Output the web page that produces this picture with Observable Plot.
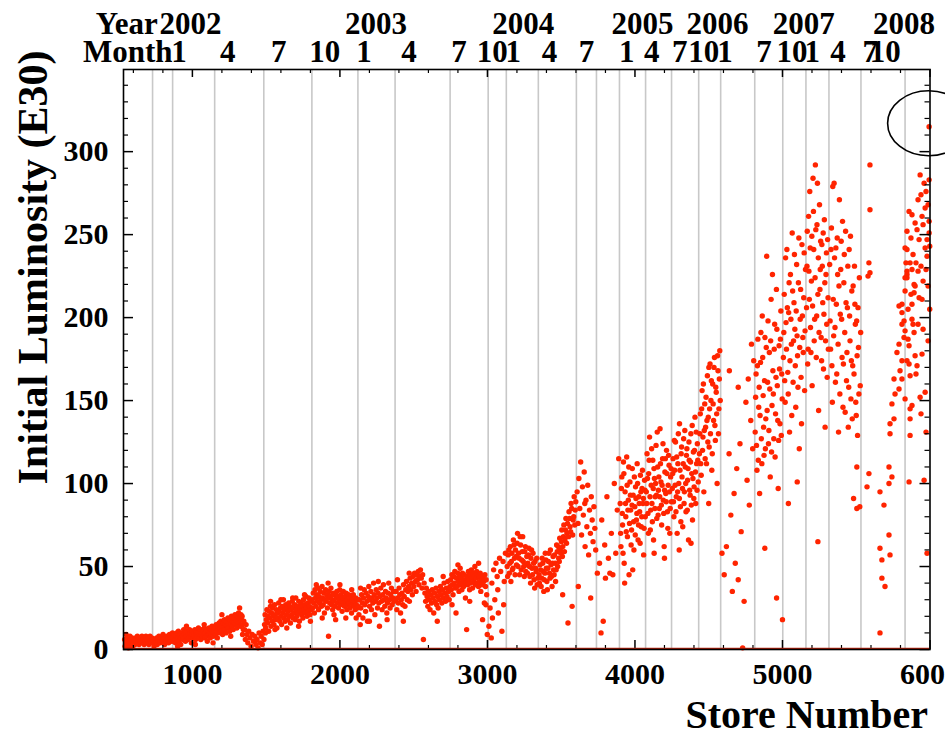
<!DOCTYPE html>
<html>
<head>
<meta charset="utf-8">
<script src="https://cdn.jsdelivr.net/npm/d3@7"></script>
<script src="https://cdn.jsdelivr.net/npm/@observablehq/plot@0.6"></script>
<style>
  html, body { margin: 0; padding: 0; background: #fff; }
</style>
</head>
<body>
<div id="chart"></div>
<script>
// ---------- DATA (store number, initial luminosity E30) ----------
const seg2001 = [[541,6],[544,2],[548,4],[551,9],[555,5],[559,3],[562,7],[566,1],[569,5],[573,4],[577,8],[581,6],[584,3],[588,5],[592,7],[596,2],[600,4],[604,6],[607,5],[611,3],[615,7],[619,6],[623,4],[627,8],[631,5],[634,6],[638,3],[642,7],[646,5],[650,6],[654,4],[658,8],[662,6],[665,5],[669,7],[673,3],[677,6],[681,5],[685,8],[689,4],[693,6],[697,7],[701,5],[705,3],[709,6],[713,8],[717,5],[721,4],[725,7],[729,6],[735,5],[740,2],[746,6],[751,4],[757,7],[762,3],[768,5],[773,8],[779,6],[784,4],[790,7],[795,5],[801,9],[806,6],[812,3],[817,7],[823,5],[828,8],[834,6],[839,4],[845,9],[850,6],[856,7],[861,5],[865,10]];
const seg2002a = [[869,7],[873,5],[877,9],[881,6],[885,4],[889,8],[893,10],[897,6],[900,2],[901,7],[905,11],[909,5],[913,8],[917,9],[921,3],[925,7],[929,10],[933,8],[937,6],[941,12],[945,9],[949,7],[953,5],[957,10],[960,14],[961,8],[965,11],[969,6],[973,9],[977,7],[981,12],[985,10],[989,8],[993,4],[997,9],[1001,11],[1005,7],[1009,10],[1013,8],[1017,12],[1020,3],[1021,6],[1025,9],[1029,11],[1033,8],[1037,10],[1041,13],[1045,7],[1049,9],[1053,11],[1057,6],[1061,10],[1065,12],[1069,8],[1073,11],[1077,9],[1080,15],[1081,13],[1085,7],[1089,10],[1093,12],[1097,8],[1101,5],[1105,11],[1109,9],[1113,13],[1117,10],[1121,7],[1125,12],[1129,9],[1133,14],[1137,11],[1140,4],[1141,8],[1145,12],[1149,10],
  [1153,13],[1157,9],[1161,15],[1165,11],[1169,7],[1173,14],[1177,12],[1181,16],[1185,10],[1189,13],[1193,17],[1197,11],[1200,21],[1201,14],[1205,9],[1209,16],[1213,13],[1217,18],[1221,12],[1225,15],[1229,10],[1233,17],[1237,14],[1241,19],[1245,13],[1249,16],[1253,11],[1257,18],[1260,8],[1261,15],[1265,20],[1269,14],[1273,17],[1277,12],[1281,19],[1285,16],[1289,21],[1293,15],[1297,18],[1301,13],[1305,20],[1309,17],[1313,22],[1317,16],[1320,25],[1321,19],[1325,14],[1329,21],[1333,18],[1337,20],[1340,9],[1341,15],[1345,12],[1349,17],
  [1354,12],[1359,6],[1364,15],[1370,9],[1376,4],[1382,11],[1390,7],[1398,2],[1405,9],[1414,5],[1423,8],[1431,3],[1438,6],[1445,1],[1452,10],[1459,4],[1466,8],[1473,3],[1479,11],[1485,6]];
const seg2002b = [[1489,15],[1493,21],[1495,10],[1497,13],[1501,18],[1505,24],[1509,16],[1513,20],[1517,11],[1521,23],[1525,19],[1529,26],[1530,29],[1533,14],[1537,22],[1541,17],[1545,25],[1549,20],[1553,15],[1557,27],[1560,12],[1561,21],[1565,18],[1569,24],[1573,13],[1577,22],[1581,19],[1585,28],[1589,23],[1593,17],[1597,25],[1600,30],[1601,20],[1605,15],[1609,26],[1613,22],[1617,30],[1621,19],[1625,24],[1629,17],[1633,27],[1637,21],[1640,13],[1641,25],[1645,18],[1649,23],[1653,28],[1657,20],[1661,26],[1665,16],[1669,24],[1673,21],[1677,29],[1680,31],[1681,19],[1685,25],[1689,22],[1693,27],[1697,18],[1701,31],[1705,24],[1709,20],[1713,26],[1717,22],[1720,14],[1721,29],[1725,17],[1729,25],[1733,23],[1737,28],[1741,21],[1745,26],[1749,19],[1753,30],[1757,24],[1760,33],[1761,27],[1765,22],[1769,32],[1773,25],[1777,20],[1781,28],[1785,23],[1789,31],[1793,26],[1797,21],[1800,17],[1801,29],[1805,24],
  [1811,30],[1815,25],[1819,34],[1823,28],[1827,22],[1831,36],[1835,31],[1839,26],[1840,39],[1843,33],[1847,29],[1851,37],[1855,24],[1859,32],[1863,28],[1867,35],[1871,30],[1875,26],[1879,38],[1880,19],[1883,31],[1887,27],[1891,34],[1895,22],[1899,30],[1903,36],[1907,29],[1911,33],[1915,25],[1919,31],[1920,40],[1923,8],[1927,35],[1931,28],[1935,32],[1939,37],[1943,27],[1947,30],[1951,24],[1955,34],[1959,29],[1960,21],[1963,33],[1967,26],[1971,18],[1975,31],[1979,35],[1983,28],[1987,32],[1991,25],[1995,30],[1999,36],[2000,39],[2003,27],[2007,33],[2011,29],[2015,23],[2019,31],[2023,35],[2027,28],[2031,26],[2035,32],[2039,29],[2040,19],[2043,34],[2047,24],[2051,30],[2055,27],[2059,33],[2063,28],[2067,25],[2071,31],[2075,29],[2079,22],[2080,36],[2083,30],[2087,27],[2091,33],[2095,26],[2099,29],[2103,24],[2107,31],[2110,19],[2111,27],[2115,25],[2119,30]];
const seg2003 = [[2124,26],[2129,21],[2133,30],[2138,15],[2140,37],[2142,25],[2147,33],[2151,28],[2156,19],[2160,31],[2165,36],[2169,27],[2174,23],[2178,34],[2183,29],[2187,17],[2192,32],[2196,38],[2200,17],[2201,26],[2205,30],[2210,35],[2214,24],[2219,31],[2223,28],[2228,40],[2232,33],[2237,21],[2241,29],[2246,36],[2250,31],[2255,25],[2259,34],[2260,41],[2264,28],[2268,14],[2273,32],[2277,37],[2282,29],[2286,24],[2291,33],[2295,39],[2300,30],[2304,26],[2309,35],[2313,31],[2318,22],[2320,18],[2322,28],[2327,34],[2331,40],[2336,30],[2340,25],[2345,33],[2349,37],[2354,27],[2358,31],[2363,35],[2367,29],
  [2376,30],[2381,35],[2386,24],[2390,42],[2391,31],[2396,28],[2401,37],[2406,33],[2411,22],[2416,30],[2421,34],[2426,27],[2430,17],[2431,39],[2436,32],[2441,26],[2446,36],[2451,41],[2456,30],[2461,35],[2466,38],[2470,46],[2471,29],[2476,43],[2481,36],[2486,40],[2491,33],[2496,44],[2501,38],[2506,46],[2511,41],[2516,35],[2521,45],[2526,42],[2531,47],[2536,39],[2541,44],[2546,48],[2551,43],[2556,37],[2561,45],[2566,6],[2571,40],[2576,34],[2581,29],[2586,37],[2591,32],[2596,26],[2601,35],[2606,30],[2611,24],[2616,33],[2620,42],[2621,28],[2626,36],[2631,31],[2636,22],[2641,34],[2646,29],[2651,37],[2656,27],[2660,17],[2661,32],[2666,25],[2671,35],[2676,30],[2681,38],[2686,33],[2691,28],[2696,36],[2700,44],[2701,31],[2706,40],[2711,34],[2716,29],[2721,37],[2726,32],[2731,41],[2736,35],[2741,30],[2746,38],
  [2751,42],[2755,36],[2759,45],[2760,27],[2763,39],[2767,33],[2771,44],[2775,40],[2779,47],[2783,37],[2787,22],[2791,43],[2795,38],[2799,46],[2800,51],[2803,41],[2807,35],[2811,44],[2815,49],[2819,39],[2823,43],[2827,36],[2831,46],[2835,41],[2839,38],[2843,45],[2847,42],[2851,31],[2855,40],[2859,12],[2863,44],[2867,39],[2871,47],[2875,42],[2879,36],[2880,29],[2883,45],[2887,40],[2891,48],[2895,43],[2899,37],[2903,46],[2907,41],[2911,44],[2915,50],[2919,39],[2923,43],[2927,47],[2931,40],[2935,45],[2939,38],[2940,52],[2943,44],[2947,41],[2951,46],[2955,35],[2959,42],[2963,39],[2967,18],[2971,44],[2975,41],[2979,28],[2983,45],[2987,38],[2990,27],[2991,42],[2995,33],[2999,9]];
const seg2004 = [[3010,14],[3018,25],[3026,7],[3030,40],[3034,19],[3042,48],[3050,30],[3058,52],[3066,44],[3070,36],[3074,22],[3082,55],[3090,47],[3098,11],[3106,53],[3110,27],[3114,41],[3122,58],
  [3134,50],[3137,44],[3141,57],[3145,60],[3148,46],[3152,52],[3155,62],[3159,41],[3162,53],[3166,58],[3169,48],[3173,49],[3176,66],[3180,63],[3183,55],[3187,45],[3190,60],[3194,56],[3197,51],[3201,64],[3204,70],[3208,50],[3211,58],[3215,55],[3218,45],[3222,68],[3225,63],[3229,48],[3232,54],[3236,59],[3239,68],[3243,53],[3246,50],[3250,44],[3253,59],[3257,62],[3260,47],[3264,51],[3267,56],[3271,46],[3274,52],[3278,57],[3281,61],[3285,50],[3288,44],[3292,40],[3295,55],[3299,60],[3302,49],[3306,45],[3309,58],[3313,52],[3316,42],[3320,37],[3323,53],[3327,49],[3330,47],[3334,55],[3337,39],[3341,43],
  [3350,45],[3353,40],[3357,51],[3361,48],[3364,38],[3368,43],[3371,55],[3375,52],[3378,47],[3382,35],[3385,42],[3389,46],[3392,58],[3396,54],[3399,49],[3403,41],[3406,36],[3410,49],[3413,53],[3417,58],[3420,46],[3424,43],[3427,60],[3431,51],[3434,44],[3438,38],[3441,52],[3445,56],[3448,48],[3452,45],[3455,57],[3459,52],[3462,41],[3466,48],[3469,63],[3473,59],[3476,50],[3480,62],[3483,55],[3487,53],[3490,67],[3494,60],[3497,58],[3501,65],[3504,72],[3508,56],[3510,33],[3511,62],[3515,68],[3518,75],[3522,59],[3525,66],[3529,72],[3532,79],[3536,64],[3539,70],[3543,76],[3546,16],[3550,68],[3553,83],[3557,79],[3560,74],[3564,71],[3567,88],[3571,85],[3574,26],[3578,69],[3581,78],[3585,80],[3588,92],[3592,75],[3595,84],[3599,89],
  [3608,95],[3614,76],[3616,38],[3620,103],[3626,85],[3632,113],[3638,69],[3644,98],[3650,81],[3656,107],[3660,88],[3662,62],[3668,90],[3674,74],[3680,99],[3686,57],[3692,84],[3698,70],[3700,31],[3704,92],[3710,78],[3716,65],[3722,86],[3728,73],[3734,60],
  [3745,46],[3760,52],[3770,10],[3775,78],[3785,17],[3795,63],[3800,43],[3810,92],[3820,55],[3830,46],[3840,70],[3850,45],[3860,100],[3870,58],[3880,84],[3890,115]];
const seg2005 = [[3900,88],[3903,70],[3905,62],[3908,97],[3911,104],[3914,82],[3916,75],[3919,58],[3922,113],[3925,106],[3927,52],[3930,40],[3933,95],[3936,88],[3938,80],[3941,71],[3944,116],[3947,99],[3949,68],[3952,84],[3955,90],[3958,110],[3960,45],[3963,76],[3966,101],[3969,93],[3971,84],[3974,63],[3977,72],[3980,87],[3982,109],[3985,48],[3988,93],[3991,77],[3993,60],[3996,104],[3999,86],[4002,69],[4004,98],[4007,91],[4010,78],[4013,82],[4015,112],[4018,100],[4021,66],[4024,75],[4026,92],[4029,88],[4032,83],[4035,64],[4037,105],[4040,95],[4043,74],[4046,80],[4048,97],[4051,108],[4054,88],[4057,91],[4059,57],[4062,73],[4065,102],[4068,96],[4070,80],
  [4077,95],[4080,88],[4082,118],[4085,103],[4088,82],[4091,70],[4093,106],[4096,114],[4099,128],[4102,92],[4104,72],[4107,84],[4110,99],[4113,121],[4115,88],[4118,77],[4121,114],[4124,97],[4126,66],[4129,109],[4130,58],[4132,103],[4135,85],[4137,92],[4140,100],[4143,123],[4146,93],[4148,79],[4151,131],[4154,110],[4157,81],[4159,96],[4162,104],[4165,85],[4168,92],[4170,133],[4173,112],[4176,101],[4179,87],[4181,75],[4184,99],[4187,115],[4190,124],[4192,90],[4195,82],[4198,62],[4200,55],[4201,96],[4203,107],[4206,115],[4209,94],[4212,89],[4214,120],[4217,106],[4220,83],[4223,73],[4225,99],[4228,117],[4231,111],[4234,95],[4236,70],[4239,85],[4242,104],[4245,109],[4247,89],
  [4253,97],[4256,106],[4258,115],[4261,89],[4264,80],[4267,126],[4269,108],[4272,99],[4275,125],[4278,83],[4280,92],[4283,116],[4286,70],[4289,95],[4291,112],[4294,130],[4297,100],[4300,60],[4301,91],[4302,136],[4305,108],[4308,86],[4311,77],[4313,118],[4316,122],[4319,104],[4322,97],[4324,74],[4327,112],[4330,127],[4333,88],[4335,95],[4338,132],[4341,110],[4344,100],[4346,83],[4349,117],[4352,121],[4355,84],[4357,102],[4360,109],[4363,66],[4366,125],[4368,114],[4371,96],[4374,93],[4377,113],[4379,130],[4380,64],[4382,87],[4385,106],[4388,135],[4390,78],[4393,103],[4396,119],[4399,91],[4401,98],[4404,120],[4407,140],[4410,107],[4412,88],[4415,131],[4418,112],[4421,96],[4423,124],[4426,114],[4429,101],
  [4437,118],[4440,130],[4443,142],[4446,112],[4449,105],[4452,145],[4455,156],[4458,120],[4461,128],[4464,160],[4467,95],[4470,132],[4473,148],[4476,115],[4479,134],[4482,152],[4485,112],[4488,138],[4491,165],[4494,125],[4497,140],[4500,88],[4501,170],[4503,122],[4506,145],[4509,172],[4512,130],[4515,150],[4518,162],[4521,108],[4524,118],[4527,160],[4530,148],[4533,138],[4536,170],[4539,176],[4542,135],[4545,126],[4548,158],[4551,155],[4554,142],[4557,100],[4560,177],[4563,168],[4566,130],[4569,145],[4572,163],[4575,180],[4578,150]];
const seg2006 = [[4590,58],[4605,45],[4620,62],[4638,118],[4640,168],[4650,81],[4660,35],[4672,94],[4680,52],[4690,109],[4700,42],[4700,158],[4712,124],[4720,71],[4730,1],[4740,29],[4752,149],[4760,102],[4768,163],[4775,87],[4785,138],[4790,184],[4798,121],[4805,174],
  [4815,131],[4818,152],[4821,166],[4824,123],[4827,108],[4830,171],[4833,187],[4836,114],[4839,146],[4842,158],[4845,94],[4848,141],[4851,173],[4854,191],[4857,127],[4860,112],[4863,201],[4866,176],[4869,153],[4872,134],[4875,117],[4878,162],[4880,61],[4881,188],[4884,121],[4887,139],[4890,182],[4893,237],[4896,144],[4899,161],[4902,198],[4905,124],[4908,132],[4911,179],[4914,157],[4917,104],[4920,186],[4923,211],[4926,119],[4929,147],[4932,226],[4935,168],[4938,154],[4941,127],[4944,181],[4947,196],[4950,116],[4953,142],[4956,164],[4959,217],[4960,31],[4962,193],[4965,159],[4968,138],[4971,97],[4974,126],[4977,183],[4980,169],[4983,136],[4986,187],[4989,204],[4992,129],[4995,166],[4998,151],[5000,18]];
const seg2007 = [[5006,176],[5009,191],[5012,214],[5015,162],[5018,149],[5021,236],[5024,197],[5027,181],[5030,241],[5033,206],[5036,167],[5039,154],[5040,88],[5042,203],[5045,221],[5048,131],[5051,174],[5054,226],[5057,199],[5060,184],[5063,141],[5066,251],[5069,216],[5072,161],[5075,186],[5078,209],[5081,238],[5084,193],[5087,171],[5090,146],[5093,204],[5096,232],[5099,189],[5100,101],[5102,177],[5105,158],[5108,221],[5111,248],[5114,121],[5117,182],[5120,199],[5123,217],[5126,164],[5129,136],[5132,244],[5135,201],[5138,188],[5141,179],[5144,212],[5147,239],[5150,156],[5153,192],[5156,229],
  [5163,206],[5166,231],[5168,252],[5171,172],[5174,181],[5177,261],[5179,228],[5182,211],[5185,276],[5188,242],[5190,194],[5193,179],[5196,222],[5199,249],[5201,159],[5204,207],[5207,284],[5210,264],[5212,241],[5215,186],[5218,199],[5221,224],[5223,292],[5226,253],[5229,176],[5232,201],[5234,256],[5237,281],[5240,214],[5240,65],[5243,236],[5245,144],[5248,191],[5251,268],[5254,217],[5256,229],[5259,246],[5262,188],[5265,174],[5267,244],[5270,231],[5273,209],[5276,251],[5278,169],[5281,202],[5284,259],[5287,221],[5289,134],[5292,186],[5295,226],[5298,239],[5300,196],[5303,164],[5306,247],[5309,212],[5311,181],
  [5320,232],[5323,198],[5326,181],[5329,241],[5332,254],[5335,171],[5338,149],[5341,279],[5344,211],[5347,189],[5350,281],[5353,236],[5356,194],[5359,161],[5362,242],[5365,208],[5368,166],[5371,248],[5374,226],[5377,184],[5380,131],[5383,219],[5386,271],[5389,154],[5392,202],[5395,229],[5398,246],[5401,199],[5404,176],[5407,258],[5410,146],[5413,172],[5416,221],[5419,238],[5422,191],[5425,143],[5428,252],[5431,209],[5434,162],[5437,179],[5440,206],[5443,231],[5446,134],[5449,158],[5452,241],[5455,201],[5458,186],[5461,249],[5464,151],[5467,174],[5470,216],[5473,139],[5476,171],[5479,219],[5482,91],[5485,166],[5488,231],[5491,208],[5494,196],[5497,149],[5500,141],[5503,198],[5504,110],[5504,85],[5506,177],[5509,129],[5512,206],[5515,182],[5518,154],[5521,224],[5524,86],[5527,159],[5530,191],
  [5573,98],[5580,225],[5586,233],[5586,106],[5593,292],[5593,265],[5593,227],[5661,95],[5661,61],[5661,10],[5674,54],[5674,43],[5688,87],[5695,38]];
const seg2008 = [[5722,69],[5729,57],[5722,110],[5742,104],[5722,100],[5729,130],[5729,136],[5756,139],[5742,148],[5763,154],[5756,163],[5776,179],[5790,157],[5790,184],[5790,207],[5797,168],[5810,174],[5810,196],[5810,208],[5810,203],[5810,163],[5824,188],[5824,198],[5831,192],[5831,216],[5831,242],[5831,224],[5831,151],
  [5837,233],[5844,224],[5844,228],[5844,252],[5844,241],[5844,226],[5844,174],[5851,205],[5851,187],[5858,264],[5858,183],[5858,172],[5858,101],[5865,233],[5865,165],[5865,145],[5865,139],[5865,129],[5871,248],[5871,214],[5878,262],[5878,229],[5878,208],[5878,199],[5878,147],[5885,238],[5885,196],[5892,220],[5892,215],[5892,191],[5899,257],[5899,219],[5899,177],[5905,233],[5905,166],[5912,253],[5912,171],[5919,271],[5919,228],[5919,196],[5926,247],[5926,212],[5933,286],[5933,152],[5939,274],[5939,231],[5939,142],[5946,261],[5946,211],[5946,178],[5953,256],[5953,222],[5953,193],[5960,281],[5960,102],[5967,266],[5967,242],[5967,155],[5973,276],[5973,229],[5973,131],[5980,247],[5980,237],[5980,58],[5987,268],[5987,219],[5987,186],[5994,283],[5994,258],[5994,251],[5994,315],[5998,243],[5998,205]];

const circledPoint = [5994, 315];

// month boundary lines (store numbers)
const monthLines = [730, 866, 1151, 1484, 1810, 2122, 2374, 2747, 3005, 3128, 3345, 3603, 3739, 3895, 4072, 4248, 4432, 4581, 4812, 5002, 5159, 5315, 5532, 5831];

// top labels
const yearLabels = ["2002", "2003", "2004", "2005", "2006", "2007", "2008"];
const yearStores = [988, 2245, 3243, 4051, 4560, 5144, 5823];
const monthLabels = ["1","4","7","10","1","4","7","10","1","4","7","1","4","7","10","1","7","10","1","4","7","10"];
const monthStores = [910, 1240, 1586, 1898, 2163, 2469, 2808, 3032, 3175, 3420, 3672, 3944, 4114, 4304, 4467, 4610, 4875, 5065, 5201, 5377, 5595, 5697];
const yearTitle = "Year", yearTitleStore = 765;
const monthTitle = "Month", monthTitleStore = 866;

// axis ticks
const xMajor = [1000, 2000, 3000, 4000, 5000, 6000];
const xMinor = [600, 800, 1200, 1400, 1600, 1800, 2200, 2400, 2600, 2800, 3200, 3400, 3600, 3800, 4200, 4400, 4600, 4800, 5200, 5400, 5600, 5800];
const yMajor = [0, 50, 100, 150, 200, 250, 300];
const yMinor = [10, 20, 30, 40, 60, 70, 80, 90, 110, 120, 130, 140, 160, 170, 180, 190, 210, 220, 230, 240, 260, 270, 280, 290, 310, 320, 330, 340];

const xTitle = "Store Number";
const yTitle = "Initial Luminosity (E30)";

const points = [...seg2001, ...seg2002a, ...seg2002b, ...seg2003, ...seg2004, ...seg2005, ...seg2006, ...seg2007, ...seg2008];

// ---------- CHART ----------
const W = 945, H = 733;
const mL = 123, mR = 15.5, mT = 69, mB = 84;
const fw = W - mL - mR, fh = H - mT - mB;
const serif = "'Liberation Serif', 'Times New Roman', Times, serif";

function ellipseMark(index, scales) {
  const cx = scales.x(circledPoint[0]);
  const cy = scales.y(circledPoint[1]) - 3;
  return d3.create("svg:ellipse")
    .attr("cx", cx).attr("cy", cy)
    .attr("rx", 41).attr("ry", 32.5)
    .attr("fill", "none").attr("stroke", "black").attr("stroke-width", 1.6)
    .node();
}

const topText = { frameAnchor: "top", lineAnchor: "middle", fontSize: 31, fontWeight: "bold" };

const chart = Plot.plot({
  width: W,
  height: H,
  marginLeft: mL,
  marginRight: mR,
  marginTop: mT,
  marginBottom: mB,
  style: { fontFamily: serif, fontWeight: "bold", background: "#fff", color: "#000", overflow: "hidden" },
  x: { domain: [533, 6000] },
  y: { domain: [0, 349.5] },
  marks: [
    Plot.ruleX(monthLines, { stroke: "#c8c8c8", strokeWidth: 1.6 }),
    Plot.dot(points, { x: d => d[0], y: d => d[1], r: 2.7, fill: "#ff2400", stroke: null }),
    // inward ticks
    Plot.ruleX(xMajor, { insetTop: fh - 9, stroke: "#000", strokeWidth: 1.5 }),
    Plot.ruleX(xMinor, { insetTop: fh - 4, stroke: "#000", strokeWidth: 1.2 }),
    Plot.ruleX(xMajor, { insetBottom: fh - 8, stroke: "#000", strokeWidth: 1.5 }),
    Plot.ruleX(xMinor, { insetBottom: fh - 4, stroke: "#000", strokeWidth: 1.2 }),
    Plot.ruleY(yMajor, { insetRight: fw - 10, stroke: "#000", strokeWidth: 1.5 }),
    Plot.ruleY(yMinor, { insetRight: fw - 5, stroke: "#000", strokeWidth: 1.2 }),
    Plot.ruleY(yMajor, { insetLeft: fw - 10, stroke: "#000", strokeWidth: 1.5 }),
    Plot.ruleY(yMinor, { insetLeft: fw - 5, stroke: "#000", strokeWidth: 1.2 }),
    Plot.ruleY([0], { stroke: "#b3200c", strokeWidth: 1.5, dy: -1 }),
    Plot.frame({ stroke: "#000", strokeWidth: 1.6 }),
    // axis labels
    Plot.axisX(xMajor, { tickSize: 0, tickPadding: 13, fontSize: 30, fontWeight: "bold", label: null, tickFormat: d => String(d) }),
    Plot.axisY(yMajor, { tickSize: 0, tickPadding: 15, fontSize: 30, fontWeight: "bold", label: null }),
    // top labels
    Plot.text(yearLabels, { ...topText, x: yearStores, text: yearLabels, dy: -45 }),
    Plot.text(monthLabels, { ...topText, x: monthStores, text: monthLabels, dy: -17 }),
    Plot.text([yearTitle], { ...topText, x: [yearTitleStore], text: d => d, textAnchor: "end", dy: -45 }),
    Plot.text([monthTitle], { ...topText, x: [monthTitleStore], text: d => d, textAnchor: "end", dy: -17 }),
    // titles
    Plot.text([xTitle], { text: d => d, frameAnchor: "bottom-right", textAnchor: "end", lineAnchor: "middle", dx: -2, dy: 66, fontSize: 40, fontWeight: "bold" }),
    Plot.text([yTitle], { text: d => d, frameAnchor: "left", textAnchor: "middle", lineAnchor: "middle", rotate: -90, dx: -90, dy: -92, fontSize: 42, fontWeight: "bold" }),
    ellipseMark
  ]
});

document.getElementById("chart").append(chart);
</script>
</body>
</html>
